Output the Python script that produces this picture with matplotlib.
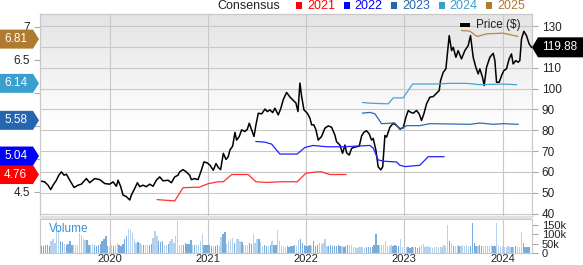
import numpy as np
import matplotlib.pyplot as plt
from matplotlib.patches import Polygon, Rectangle
from matplotlib.transforms import IdentityTransform

plt.rcParams['font.family'] = ['Liberation Sans', 'DejaVu Sans']

# price ($), x as decimal year
price_t = [2019.287, 2019.338, 2019.372, 2019.399, 2019.423, 2019.457, 2019.481, 2019.508, 2019.535, 2019.559,
           2019.593, 2019.637, 2019.677, 2019.711, 2019.762, 2019.796, 2019.847, 2019.898, 2019.949, 2020.000,
           2020.034, 2020.068, 2020.085, 2020.112, 2020.135, 2020.170, 2020.204, 2020.221, 2020.255, 2020.282,
           2020.305, 2020.339, 2020.373, 2020.407, 2020.441, 2020.475, 2020.509, 2020.543, 2020.594, 2020.628,
           2020.662, 2020.695, 2020.712, 2020.746, 2020.780, 2020.814, 2020.831, 2020.865, 2020.899, 2020.933,
           2020.960, 2020.994, 2021.021, 2021.055, 2021.082, 2021.106, 2021.129, 2021.157, 2021.184, 2021.207,
           2021.224, 2021.252, 2021.275, 2021.292, 2021.319, 2021.343, 2021.377, 2021.401, 2021.421, 2021.445,
           2021.469, 2021.489, 2021.513, 2021.547, 2021.581, 2021.604, 2021.632, 2021.659, 2021.682, 2021.716,
           2021.740, 2021.767, 2021.801, 2021.835, 2021.862, 2021.896, 2021.917, 2021.937, 2021.954, 2021.978,
           2022.012, 2022.039, 2022.056, 2022.079, 2022.100, 2022.123, 2022.157, 2022.191, 2022.225, 2022.259,
           2022.293, 2022.310, 2022.344, 2022.371, 2022.395, 2022.412, 2022.439, 2022.463, 2022.487, 2022.514,
           2022.541, 2022.565, 2022.588, 2022.615, 2022.643, 2022.666, 2022.683, 2022.710, 2022.734, 2022.760,
           2022.780, 2022.802, 2022.819, 2022.853, 2022.887, 2022.921, 2022.955, 2022.989, 2023.016, 2023.040,
           2023.063, 2023.090, 2023.124, 2023.151, 2023.175, 2023.199, 2023.226, 2023.260, 2023.294, 2023.328,
           2023.355, 2023.369, 2023.396, 2023.423, 2023.447, 2023.457, 2023.481, 2023.498, 2023.525, 2023.548,
           2023.582, 2023.616, 2023.650, 2023.674, 2023.701, 2023.728, 2023.752, 2023.769, 2023.796, 2023.813,
           2023.837, 2023.871, 2023.905, 2023.922, 2023.939, 2023.966, 2023.990, 2024.013, 2024.040, 2024.067,
           2024.091, 2024.108, 2024.135, 2024.159, 2024.176, 2024.193, 2024.217, 2024.244, 2024.271, 2024.295]
price_v = [55.7, 55.2, 53.6, 51.5, 53.6, 56.0, 58.4, 60.0, 58.4, 58.9,
           56.0, 52.5, 53.6, 54.1, 56.8, 54.8, 56.8, 56.3, 54.4, 54.1,
           55.2, 53.1, 56.0, 52.9, 48.9, 48.1, 46.5, 48.9, 52.1, 54.8,
           52.9, 53.6, 52.9, 54.1, 53.1, 56.0, 57.6, 55.7, 56.0, 54.8,
           57.6, 58.4, 60.0, 61.1, 60.0, 58.4, 56.3, 56.8, 56.3, 60.8,
           64.8, 64.3, 63.2, 60.8, 64.0, 62.1, 61.1, 68.9, 66.0, 67.3,
           70.5, 72.4, 79.0, 75.3, 77.0, 80.2, 79.4, 80.5, 83.4, 80.2,
           77.0, 82.6, 88.2, 87.9, 90.2, 89.0, 89.8, 88.5, 90.6, 87.4,
           90.2, 94.7, 98.2, 96.0, 94.7, 93.1, 89.0, 102.7, 96.3, 89.8,
           88.2, 85.8, 82.6, 82.6, 80.2, 75.3, 77.0, 81.0, 82.1, 81.5,
           77.7, 74.5, 72.9, 68.9, 72.9, 69.2, 68.1, 71.3, 71.8, 72.1,
           72.4, 77.3, 79.0, 79.8, 78.2, 75.3, 76.1, 70.5, 62.4, 61.0,
           62.5, 77.5, 76.7, 81.5, 83.4, 82.3, 80.7, 81.2, 86.3, 89.5,
           88.7, 88.2, 89.5, 87.9, 84.7, 87.9, 92.7, 95.9, 96.2, 97.8,
           99.1, 103.9, 107.9, 109.5, 120.7, 125.5, 118.3, 119.9, 115.1, 118.3,
           114.3, 118.3, 120.7, 125.5, 115.1, 110.3, 107.1, 109.5, 105.5, 101.5,
           110.3, 115.1, 117.0, 113.5, 103.1, 103.1, 106.3, 108.7, 109.5, 114.3,
           116.7, 111.9, 113.5, 112.7, 113.5, 123.9, 127.6, 125.5, 121.5, 119.88]

# consensus EPS estimates by fiscal year
eps21_t = [2020.484, 2020.662, 2020.746, 2020.916, 2021.000, 2021.102, 2021.156, 2021.242, 2021.411,
           2021.489, 2021.598, 2021.733, 2021.909, 2021.998, 2022.107, 2022.158, 2022.242, 2022.405]
eps21_v = [4.38, 4.36, 4.56, 4.57, 4.62, 4.65, 4.65, 4.76, 4.76,
           4.65, 4.64, 4.65, 4.65, 4.78, 4.80, 4.80, 4.76, 4.76]
eps22_t = [2021.489, 2021.580, 2021.649, 2021.733, 2021.909, 2021.988, 2022.072, 2022.209, 2022.378,
           2022.649, 2022.683, 2022.734, 2022.802, 2022.921, 2022.955, 2023.006, 2023.158, 2023.243, 2023.403]
eps22_v = [5.26, 5.25, 5.22, 5.07, 5.07, 5.17, 5.20, 5.18, 5.18,
           5.20, 5.16, 4.98, 4.96, 4.95, 4.90, 4.88, 4.90, 5.03, 5.03]
eps23_t = [2022.575, 2022.649, 2022.700, 2022.768, 2022.904, 2022.955, 2023.023, 2023.158, 2023.260,
           2023.667, 2023.769, 2023.904, 2024.006, 2024.158]
eps23_v = [5.69, 5.70, 5.68, 5.53, 5.54, 5.44, 5.50, 5.50, 5.53,
           5.52, 5.54, 5.52, 5.53, 5.52]
eps24_t = [2022.575, 2022.649, 2022.836, 2022.887, 2022.988, 2023.084, 2023.328, 2023.450, 2023.634,
           2023.769, 2024.006, 2024.142]
eps24_v = [5.85, 5.84, 5.83, 5.92, 5.92, 6.13, 6.13, 6.14, 6.14,
           6.12, 6.13, 6.12]
eps25_t = [2023.583, 2023.667, 2023.741, 2023.843, 2024.006, 2024.158]
eps25_v = [6.94, 6.93, 6.85, 6.89, 6.90, 6.85]

eps_years = ['2021', '2022', '2023', '2024', '2025']
eps_latest = [4.76, 5.04, 5.58, 6.14, 6.81]
last_price = 119.88

# weekly volume (thousands)
vol_start = 2019.288
vol_k = [30, 38, 35, 42, 40, 36, 63, 72, 55, 167,
         124, 65, 60, 46, 42, 48, 63, 45, 40, 44,
         42, 106, 93, 72, 68, 70, 45, 40, 48, 42,
         38, 45, 50, 63, 72, 89, 38, 35, 40, 36,
         42, 55, 45, 38, 50, 72, 90, 127, 124, 106,
         72, 55, 58, 52, 45, 42, 40, 45, 43, 48,
         80, 115, 89, 63, 60, 65, 45, 42, 46, 63,
         72, 55, 89, 170, 45, 42, 44, 55, 48, 50,
         69, 45, 42, 47, 40, 63, 98, 45, 42, 40,
         44, 38, 38, 36, 40, 38, 86, 98, 110, 50,
         63, 75, 78, 55, 75, 72, 63, 58, 45, 42,
         44, 55, 48, 103, 55, 72, 75, 60, 38, 40,
         36, 38, 42, 63, 45, 40, 124, 63, 35, 38,
         32, 36, 34, 38, 35, 40, 36, 69, 75, 55,
         45, 38, 36, 40, 38, 63, 38, 42, 55, 50,
         55, 75, 38, 35, 40, 36, 38, 35, 40, 36,
         38, 34, 36, 40, 45, 45, 30, 32, 28, 30,
         33, 30, 28, 32, 30, 30, 32, 40, 103, 45,
         42, 45, 42, 63, 38, 36, 40, 38, 40, 36,
         38, 75, 30, 28, 32, 30, 28, 32, 30, 30,
         28, 32, 45, 48, 30, 35, 30, 32, 28, 30,
         33, 30, 30, 32, 45, 38, 150, 63, 55, 38,
         36, 40, 38, 35, 40, 38, 42, 38, 38, 158,
         55, 38, 36, 40, 38, 35, 38, 36, 38, 40,
         36, 35, 158, 45, 30, 35, 32, 30, 35, 33,
         30, 32, 35, 32, 30, 112, 55, 32, 30, 32]

year_ticks = [2020, 2021, 2022, 2023, 2024]

line_colors = ['#ff3030', '#2020ff', '#2b6cb4', '#45a4d4', '#bb853e']
badge_colors = ['#ff0000', '#0000ff', '#2467b0', '#3a9fcf', '#b07a2f']
grid_c = '#c8c8c8'
text_c = '#222222'

W, H = 583, 265
fig = plt.figure(figsize=(W / 100, H / 100), dpi=100)


def box(x0, y0, x1, y1):
    # pixel box (from top-left) -> figure fraction rect
    return [x0 / W, 1 - y1 / H, (x1 - x0) / W, (y1 - y0) / H]


ax = fig.add_axes(box(40, 14, 532, 216))
axv = fig.add_axes(box(40, 219, 532, 253))
ax_e = ax.twinx()
ax.yaxis.tick_right()
ax_e.yaxis.tick_left()

xlim = (2019.29, 2024.30)
plim = (38.8, 135.9)
elim = (4.132, 7.19)

# light grey gradient at the top of the price panel
f = np.linspace(0, 1, 300)
g = np.where(f < 0.43, 1.0, 1.0 - (f - 0.43) / 0.57 * 0.105)
img = np.dstack([g, g, g]).reshape(-1, 1, 3)
ax.imshow(img, extent=(xlim[0], xlim[1], plim[0], plim[1]), aspect='auto', origin='lower', zorder=0)

ax.plot(price_t, price_v, color='black', lw=1.1, zorder=3)
ax.set_xlim(*xlim)
ax.set_ylim(*plim)
ax.set_xticks(year_ticks)
p_ticks = list(range(40, 131, 10))
ax.set_yticks(p_ticks)
# 120 sits under the last-price badge
ax.set_yticklabels(['' if p == 120 else str(p) for p in p_ticks])
ax.grid(True, color=grid_c, lw=0.8)
ax.set_axisbelow(True)
ax.tick_params(axis='x', length=0, labelbottom=False)
ax.tick_params(axis='y', length=4, width=0.8, color='#aaaaaa', pad=3, labelsize=8.5, labelcolor=text_c)

eps_t_all = [eps21_t, eps22_t, eps23_t, eps24_t, eps25_t]
eps_v_all = [eps21_v, eps22_v, eps23_v, eps24_v, eps25_v]
for t, v, c in zip(eps_t_all, eps_v_all, line_colors):
    ax_e.plot(t, v, color=c, lw=0.9, zorder=2)
ax_e.set_ylim(*elim)
ax_e.set_yticks([4.5, 5, 5.5, 6, 6.5, 7])
# 5, 5.5 and 6 are hidden behind the consensus badges
ax_e.set_yticklabels(['4.5', '', '', '', '6.5', '7'])
ax_e.tick_params(axis='y', length=4, width=0.8, color='#aaaaaa', pad=3, labelsize=8.5, labelcolor=text_c)

for a in (ax, ax_e, axv):
    for s in a.spines.values():
        s.set_color(grid_c)
        s.set_linewidth(0.8)

# volume panel
vol_x = vol_start + np.arange(len(vol_k)) / 52.0
p_a = np.interp(vol_x, price_t, price_v)
p_b = np.interp(vol_x + 1 / 52.0, price_t, price_v)
vcols = np.where(p_b >= p_a, '#b5d2ee', '#79acdb')
axv.bar(vol_x, np.array(vol_k) * 1000, width=0.7 / 52, color=vcols, zorder=2)
axv.set_xlim(*xlim)
axv.set_ylim(0, 180000)
axv.yaxis.tick_right()
axv.set_yticks([0, 50000, 100000, 150000])
axv.set_yticklabels(['0', '50k', '100k', '150k'])
axv.set_xticks(year_ticks)
axv.set_xticklabels([str(y) for y in year_ticks])
axv.grid(True, axis='x', color=grid_c, lw=0.8)
axv.set_axisbelow(True)
axv.tick_params(axis='x', length=0, pad=1, labelsize=8, labelcolor=text_c)
axv.tick_params(axis='y', length=4, width=0.8, color='#aaaaaa', pad=3, labelsize=8, labelcolor=text_c)
axv.text(0.018, 0.71, 'Volume', transform=axv.transAxes, color='#3d8fd6', fontsize=8.5, va='center')

# separator band between panels
fig.add_artist(Rectangle((40 / W, 1 - 219 / H), 492 / W, 3 / H, transform=fig.transFigure,
                         facecolor='#e0e0e0', edgecolor='none'))

# left badges with latest consensus
for val, c in zip(eps_latest, badge_colors):
    y = ax_e.transData.transform((xlim[0], val))[1]
    pts = [(0, y - 9.5), (33, y - 9.5), (39, y), (33, y + 9.5), (0, y + 9.5)]
    fig.add_artist(Polygon(pts, closed=True, transform=IdentityTransform(), facecolor=c, edgecolor='none'))
    fig.text(4 / W, y / H, f'{val:.2f}', color='white', fontsize=8.5, va='center', ha='left')

# right badge with last price
y = ax.transData.transform((xlim[1], last_price))[1]
pts = [(532, y), (538, y + 10), (583, y + 10), (583, y - 10), (538, y - 10)]
fig.add_artist(Polygon(pts, closed=True, transform=IdentityTransform(), facecolor='black', edgecolor='none'))
fig.text(560 / W, y / H, f'{last_price:.2f}', color='white', fontsize=8.5, va='center', ha='center')

# top legend
fig.text(217 / W, 1 - 6 / H, 'Consensus', color=text_c, fontsize=9, va='center')
for i, (yr, c) in enumerate(zip(eps_years, badge_colors)):
    x0 = 296 + i * 47.5
    fig.add_artist(Rectangle((x0 / W, 1 - 9 / H), 6 / W, 7 / H, transform=fig.transFigure,
                             facecolor=c, edgecolor='none'))
    fig.text((x0 + 11) / W, 1 - 6 / H, yr, color=c, fontsize=9, va='center')

# price legend
fig.add_artist(Rectangle((460 / W, 1 - 27 / H), 10 / W, 4 / H, transform=fig.transFigure,
                         facecolor='black', edgecolor='none'))
fig.text(476 / W, 1 - 25 / H, 'Price ($)', color=text_c, fontsize=8.5, va='center')

fig.savefig('out.png', dpi=100)
